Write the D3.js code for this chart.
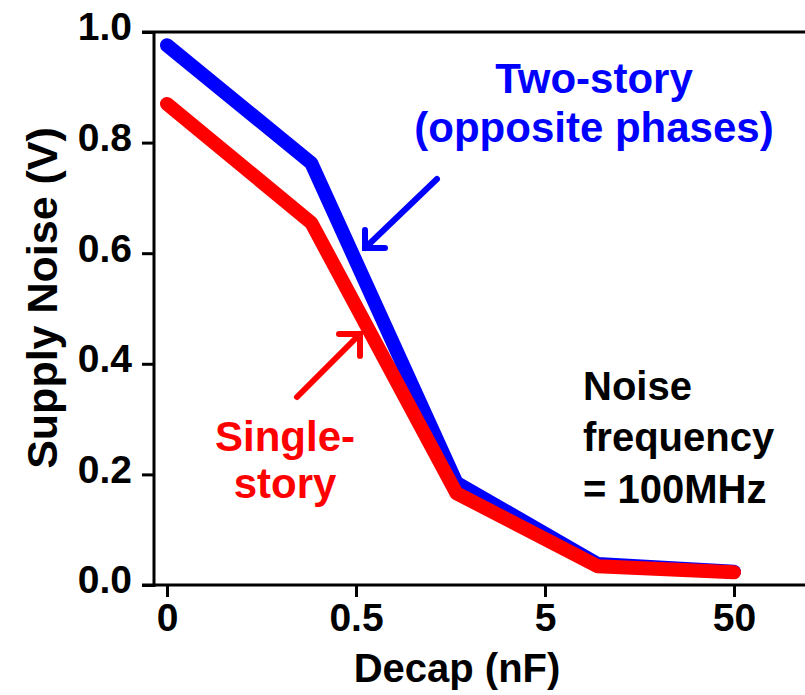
<!DOCTYPE html>
<html>
<head>
<meta charset="utf-8">
<script src="https://cdn.jsdelivr.net/npm/d3@7"></script>
<style>
    body { margin: 0; background: #fff; }
    text { font-family: "Liberation Sans", Arial, sans-serif; font-weight: bold; }
</style>
</head>
<body>
<svg id="chart" width="805" height="695"></svg>
<script>
// decap values ("0" sits one decade below 0.5)
let decap = [0, 0.29, 1.7, 9.5, 50];
let twoStory = [0.976, 0.763, 0.185, 0.038, 0.024];
let singleStory = [0.870, 0.655, 0.166, 0.034, 0.023];

let xTicks = [0, 0.5, 5, 50];
let yTicks = [0, 0.2, 0.4, 0.6, 0.8, 1.0];

let svg = d3.select('#chart');

let width = 805;
let height = 695;
let margin = {top: 32, left: 154, bottom: 110, right: 0};

let zeroAt = 0.05;
let xScale = d3.scaleLog().domain([zeroAt, 50]).range([167, 734]);
let yScale = d3.scaleLinear().domain([0, 1]).range([height - margin.bottom, margin.top]);
let xPos = (v) => xScale(v === 0 ? zeroAt : v);

// axes
let yAxis = d3.axisLeft(yScale)
    .tickValues(yTicks)
    .tickSize(12)
    .tickPadding(10)
    .tickFormat(d3.format('.1f'));

let xAxis = d3.axisBottom(xScale)
    .tickValues(xTicks.map(v => v === 0 ? zeroAt : v))
    .tickSize(12)
    .tickPadding(6)
    .tickFormat((d, i) => String(xTicks[i]));

let gy = svg.append('g')
    .attr('transform', 'translate(' + margin.left + ',0)')
    .call(yAxis);

let gx = svg.append('g')
    .attr('transform', 'translate(0,' + yScale(0) + ')')
    .call(xAxis);

[gx, gy].forEach(g => {
    g.select('.domain').remove();
    g.selectAll('line').attr('stroke', '#000').attr('stroke-width', 3);
    g.selectAll('text').attr('fill', '#000').style('font-size', '39px');
});
gy.selectAll('text').attr('dy', '0.2em');

// frame lines
svg.append('line')
    .attr('x1', margin.left).attr('x2', margin.left)
    .attr('y1', yScale(1)).attr('y2', yScale(0) + 2)
    .attr('stroke', '#000').attr('stroke-width', 3);
svg.append('line')
    .attr('x1', margin.left - 12).attr('x2', width)
    .attr('y1', yScale(0)).attr('y2', yScale(0))
    .attr('stroke', '#000').attr('stroke-width', 3);
svg.append('line')
    .attr('x1', margin.left - 12).attr('x2', width)
    .attr('y1', yScale(1)).attr('y2', yScale(1))
    .attr('stroke', '#000').attr('stroke-width', 3);

// axis titles
svg.append('text')
    .attr('x', 457).attr('y', 682)
    .attr('text-anchor', 'middle')
    .style('font-size', '40px')
    .text('Decap (nF)');

svg.append('text')
    .attr('transform', 'translate(57,298) rotate(-90)')
    .attr('text-anchor', 'middle')
    .style('font-size', '43px')
    .text('Supply Noise (V)');

// lines
let line = d3.line()
    .x((d, i) => xPos(decap[i]))
    .y(d => yScale(d));

svg.append('path')
    .datum(twoStory)
    .attr('d', line)
    .attr('fill', 'none')
    .attr('stroke', '#0000ff')
    .attr('stroke-width', 14)
    .attr('stroke-linecap', 'round')
    .attr('stroke-linejoin', 'round');

svg.append('path')
    .datum(singleStory)
    .attr('d', line)
    .attr('fill', 'none')
    .attr('stroke', '#ff0000')
    .attr('stroke-width', 14)
    .attr('stroke-linecap', 'round')
    .attr('stroke-linejoin', 'round');

// annotations
let arrow = (color, x1, y1, x2, y2, h1, h2) => {
    let g = svg.append('g')
        .attr('stroke', color)
        .attr('stroke-width', 6)
        .attr('stroke-linecap', 'round')
        .attr('fill', 'none');
    g.append('line').attr('x1', x1).attr('y1', y1).attr('x2', x2).attr('y2', y2);
    g.append('path').attr('d', 'M' + h1 + 'L' + [x2, y2] + 'L' + h2);
};

arrow('#0000ff', 437, 179, 365, 248, [365, 230], [385, 248]);
arrow('#ff0000', 297, 397, 360, 334, [339, 334], [360, 356]);

let blueText = svg.append('text')
    .attr('fill', '#0000ff')
    .attr('text-anchor', 'middle')
    .style('font-size', '42px');
blueText.append('tspan').attr('x', 594).attr('y', 93).text('Two-story');
blueText.append('tspan').attr('x', 594).attr('y', 142).text('(opposite phases)');

let redText = svg.append('text')
    .attr('fill', '#ff0000')
    .attr('text-anchor', 'middle')
    .style('font-size', '42px');
redText.append('tspan').attr('x', 285).attr('y', 451).text('Single-');
redText.append('tspan').attr('x', 285).attr('y', 498).text('story');

let noteText = svg.append('text')
    .attr('fill', '#000')
    .style('font-size', '40px');
noteText.append('tspan').attr('x', 583).attr('y', 400).text('Noise');
noteText.append('tspan').attr('x', 583).attr('y', 451).text('frequency');
noteText.append('tspan').attr('x', 583).attr('y', 503).text('= 100MHz');
</script>
</body>
</html>
